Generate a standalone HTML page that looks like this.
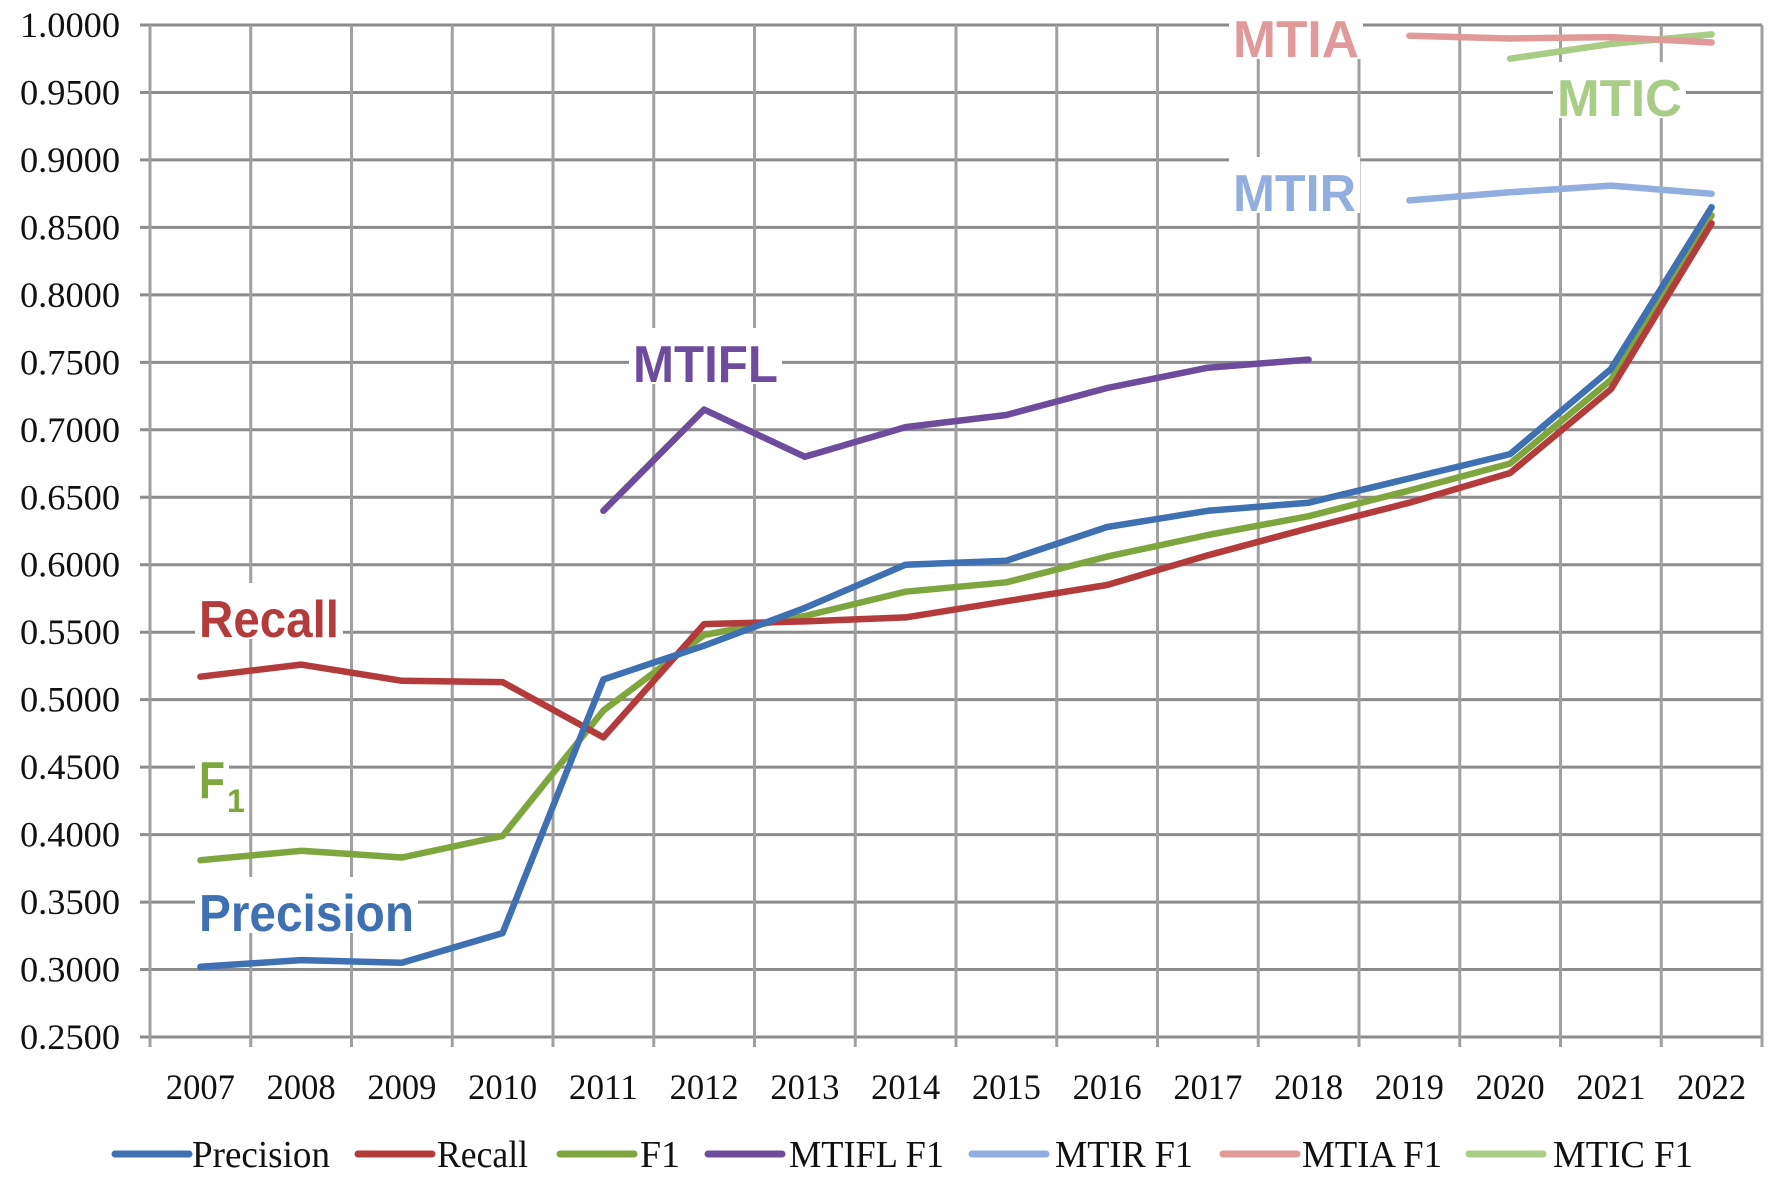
<!DOCTYPE html>
<html><head><meta charset="utf-8">
<style>html,body{margin:0;padding:0;background:#fff}svg{display:block}</style>
</head><body>
<svg id="chart" width="1772" height="1185" viewBox="0 0 1772 1185" xmlns="http://www.w3.org/2000/svg">
<g id="grid"></g>
<g id="axes"></g>
<g id="series"></g>
<g id="labels"></g>
<g id="legend"></g>
</svg>
<script>
const years = [2007,2008,2009,2010,2011,2012,2013,2014,2015,2016,2017,2018,2019,2020,2021,2022];
const yTicks = [0.25,0.30,0.35,0.40,0.45,0.50,0.55,0.60,0.65,0.70,0.75,0.80,0.85,0.90,0.95,1.00];
const precision = [0.302,0.307,0.305,0.327,0.515,0.540,0.568,0.600,0.603,0.628,0.640,0.646,0.664,0.682,0.745,0.865];
const recall = [0.517,0.526,0.514,0.513,0.472,0.556,0.558,0.561,0.573,0.585,0.607,0.627,0.646,0.668,0.730,0.853];
const f1 = [0.381,0.388,0.383,0.399,0.492,0.548,0.562,0.580,0.587,0.606,0.622,0.636,0.655,0.675,0.737,0.859];
const mtiflYears = [2011,2012,2013,2014,2015,2016,2017,2018];
const mtifl = [0.640,0.715,0.680,0.702,0.711,0.731,0.746,0.752];
const mtirYears = [2019,2020,2021,2022];
const mtir = [0.870,0.876,0.881,0.875];
const mtiaYears = [2019,2020,2021,2022];
const mtia = [0.992,0.990,0.991,0.987];
const mticYears = [2020,2021,2022];
const mtic = [0.975,0.986,0.993];

const NS='http://www.w3.org/2000/svg';
const L=150,R=1762,T=25,B=1037,yMin=0.25,yMax=1.0;
const band=(R-L)/years.length;
function xPos(yr){return L+(years.indexOf(yr)+0.5)*band;}
function yPos(v){return B-(v-yMin)/(yMax-yMin)*(B-T);}
function mk(tag,attrs,parent){const e=document.createElementNS(NS,tag);for(const k in attrs)e.setAttribute(k,attrs[k]);parent.appendChild(e);return e;}
const grid=document.getElementById('grid'),axes=document.getElementById('axes'),series=document.getElementById('series'),labels=document.getElementById('labels'),legend=document.getElementById('legend');

yTicks.forEach(t=>{
  const y=yPos(t);
  const ln=mk('line',{x1:L-10,x2:R,y1:y,y2:y,stroke:'#8c8c8c','stroke-width':3},grid);
  
  
  const tx=mk('text',{x:120,y:y+12,'text-anchor':'end','font-family':'Liberation Serif, serif','font-size':36,fill:'#111',textLength:100,lengthAdjust:'spacingAndGlyphs'},axes);
  tx.textContent=t.toFixed(4);
  
  
});
for(let i=0;i<=years.length;i++){
  const x=L+i*band;
  const ln=mk('line',{x1:x,x2:x,y1:T,y2:B+10,stroke:'#a0a0a0','stroke-width':3},grid);
  
  
}
years.forEach(yr=>{
  const tx=mk('text',{x:xPos(yr),y:1099,'text-anchor':'middle','font-family':'Liberation Serif, serif','font-size':36,fill:'#111',textLength:69,lengthAdjust:'spacingAndGlyphs'},axes);
  tx.textContent=yr;
  
  
});

function drawSeries(name,xs,vals,color){
  const pts=vals.map((v,i)=>xPos(xs[i]).toFixed(1)+','+yPos(v).toFixed(1)).join(' ');
  const p=mk('polyline',{points:pts,fill:'none',stroke:color,'stroke-width':6.5,'stroke-linejoin':'round','stroke-linecap':'round'},series);
  
  
}
const C={p:'#3e70b2',r:'#b33b3b',f:'#7fa63e',fl:'#6e4c9c',ir:'#92aede',ia:'#e09a9a',ic:'#a9cc87'};
drawSeries('mtic-f1-line',mticYears,mtic,C.ic);
drawSeries('mtia-f1-line',mtiaYears,mtia,C.ia);
drawSeries('mtir-f1-line',mtirYears,mtir,C.ir);
drawSeries('mtifl-f1-line',mtiflYears,mtifl,C.fl);
drawSeries('f1-line',years,f1,C.f);
drawSeries('recall-line',years,recall,C.r);
drawSeries('precision-line',years,precision,C.p);

function lbl(name,text,x,y,w,color,sub){
  const g=mk('g',{},labels);
  
  
  mk('rect',{x:x-4,y:y-36,width:w+8,height:56,fill:'#fff'},g);
  const t=mk('text',{x:x,y:y+18,'font-family':'Liberation Sans, sans-serif','font-weight':'bold','font-size':52,fill:color,textLength:w,lengthAdjust:'spacingAndGlyphs'},g);
  t.textContent=text;
  if(sub){const s=mk('text',{x:x+w+2,y:y+32,'font-family':'Liberation Sans, sans-serif','font-weight':'bold','font-size':32,fill:color},g);s.textContent=sub;}
}
lbl('mtia-label','MTIA',1233,39,126,C.ia);
lbl('mtic-label','MTIC',1557,98,125,C.ic);
lbl('mtir-label','MTIR',1233,193,123,C.ir);
lbl('mtifl-label','MTIFL',633,364,145,C.fl);
lbl('recall-label','Recall',199,619,140,C.r);
lbl('f1-label','F',199,780,26,C.f,'1');
lbl('precision-label','Precision',199,913,215,C.p);

const legItems=[['Precision',C.p,115,192,138],['Recall',C.r,358,437,91],['F1',C.f,560,640,40],['MTIFL F1',C.fl,708,789,155],['MTIR F1',C.ir,972,1055,138],['MTIA F1',C.ia,1223,1302,140],['MTIC F1',C.ic,1469,1553,140]];
legItems.forEach(it=>{
  const g=mk('g',{},legend);
  
  
  mk('line',{x1:it[2],x2:it[2]+74,y1:1154,y2:1154,stroke:it[1],'stroke-width':7,'stroke-linecap':'round'},g);
  const t=mk('text',{x:it[3],y:1167,'font-family':'Liberation Serif, serif','font-size':38,fill:'#111',textLength:it[4],lengthAdjust:'spacingAndGlyphs'},g);
  t.textContent=it[0];
});
</script>
</body></html>
